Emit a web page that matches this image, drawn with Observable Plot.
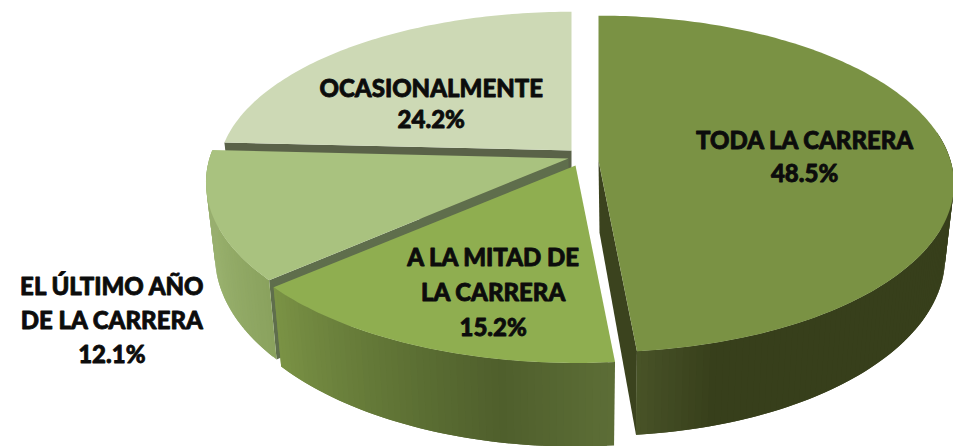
<!DOCTYPE html>
<html><head><meta charset="utf-8">
<script src="https://cdn.jsdelivr.net/npm/d3@7"></script>
<script src="https://cdn.jsdelivr.net/npm/@observablehq/plot@0.6"></script>
<style>html,body{margin:0;padding:0;background:#fff}svg{display:block}</style>
</head><body><div id="chart"></div>
<script>
// Data, clockwise from twelve o'clock
const categories = ["TODA LA CARRERA", "A LA MITAD DE\nLA CARRERA", "EL ÚLTIMO AÑO\nDE LA CARRERA", "OCASIONALMENTE"];
const shares = [48.5, 15.2, 12.1, 24.2];

// Drawing of each slice (3D pie layout, not data)
const W = 953, H = 446, K = 0.139, D = 72, STEP = 1;
const layout = [
  {ax:598, ay:160, R:352, Ry:165, top:"#7a9244", face:"#3b431e", lr:[0.59,0.35], lh:33,
   side:[[80,"#373f1b"],[163,"#373f1b"],[172,"#454f25"],[175,"#4a5528"]], faceAt:"end"},
  {ax:575, ay:165, R:362, Ry:170, top:"#8fae50", face:"#5f7335", lr:[0.53,0.707], lh:35,
   side:[[175,"#5c6d36"],[190,"#4f5f2c"],[205,"#5f7335"],[230,"#7c9446"]]},
  {ax:568, ay:158, R:359, Ry:170, top:"#a9c27f", face:"#5f6e4c", lr:[1.284,2.83], lh:34,
   side:[[229,"#8aa25e"],[250,"#98b06d"],[273,"#98ae70"]], faceAt:"start"},
  {ax:571, ay:150, R:350, Ry:158, top:"#cdd9b5", face:"#5a6248", lr:[0.64,0.44], lh:31, side:[], faceAt:"start"}
];

const total = d3.sum(shares);
let cum = 0;
const slices = shares.map((v, i) => {
  const a0 = cum / total * 360; cum += v;
  return {i, a0, a1: cum / total * 360, name: categories[i], value: v, ...layout[i]};
});
const rad = d => d * Math.PI / 180;
function pt(s, deg, lift = 0, fx = 1, fy = 1) {
  const X = Math.sin(rad(deg)), Y = Math.cos(rad(deg));
  const p = 1 / (1 + K * Y);
  const k = lift ? 0.975 : 1;
  return [s.ax + fx * s.R * X * p * k, s.ay - fy * s.Ry * Y * p + lift * p];
}
const apexLow = s => [s.ax + (s.i === 0 ? 1 : 0), s.ay + D];

function sideColor(s, deg) {
  const st = s.side;
  if (deg <= st[0][0]) return st[0][1];
  for (let j = 1; j < st.length; j++) if (deg <= st[j][0])
    return d3.interpolateRgb(st[j-1][1], st[j][1])((deg - st[j-1][0]) / (st[j][0] - st[j-1][0]));
  return st[st.length-1][1];
}

let id = 0;
const addPoly = (list, ps, color) => { id++; ps.forEach(([x, y]) => list.push({x, y, color, id})); };
const order = [slices[3], slices[2], slices[1], slices[0]];
const groups = order.map(s => {
  const out = {wall: [], flat: [], top: []};
  if (s.faceAt) {
    const a = s.faceAt === "start" ? s.a0 : s.a1;
    addPoly(out.flat, [[s.ax, s.ay], pt(s, a), pt(s, a, D), apexLow(s)], s.face);
  }
  if (s.side.length) {
    const a0 = s.i === 0 ? 80 : s.a0;
    // each strip runs on under the next one, so no seam shows between them
    for (let a = a0; a < s.a1; a += STEP) {
      const b = Math.min(a + 2 * STEP, s.a1);
      addPoly(out.wall, [pt(s, a), pt(s, b), pt(s, b, D), pt(s, a, D)], sideColor(s, a));
    }
  }
  const top = [[s.ax, s.ay]];
  for (let a = s.a0; a < s.a1; a += STEP) top.push(pt(s, a));
  top.push(pt(s, s.a1));
  addPoly(out.top, top, s.top);
  return out;
});

// Text rows: name lines plus the percentage
const labels = slices.flatMap(s => {
  const lines = [...s.name.split("\n"), s.value.toFixed(1) + "%"];
  const [lx, ly] = s.lr;
  const [cx, cy] = pt(s, (s.a0 + s.a1) / 2, 0, lx, ly);
  return lines.map((text, j) => ({text, x: cx, y: cy + (j - (lines.length - 1) / 2) * s.lh}));
});

const chart = Plot.plot({
  width: W, height: H, margin: 0,
  style: {background: "#fff"},
  x: {domain: [0, W], range: [0, W], axis: null},
  y: {domain: [0, H], range: [0, H], axis: null},
  color: {type: "identity"},
  marks: [
    groups.flatMap(g => [
      Plot.line(g.flat, {x: "x", y: "y", z: "id", fill: "color", stroke: "none"}),
      Plot.line(g.wall, {x: "x", y: "y", z: "id", fill: "color", stroke: "none"}),
      Plot.line(g.top, {x: "x", y: "y", z: "id", fill: "color", stroke: "none"})
    ]),
    Plot.text(labels, {x: "x", y: "y", text: "text", fontFamily: "Lato", fontWeight: 900, fontSize: 24,
      fill: "#0c0c0c", stroke: "#0c0c0c", strokeWidth: 0.8, textAnchor: "middle"})
  ]
});
document.getElementById("chart").append(chart);
</script></body></html>
